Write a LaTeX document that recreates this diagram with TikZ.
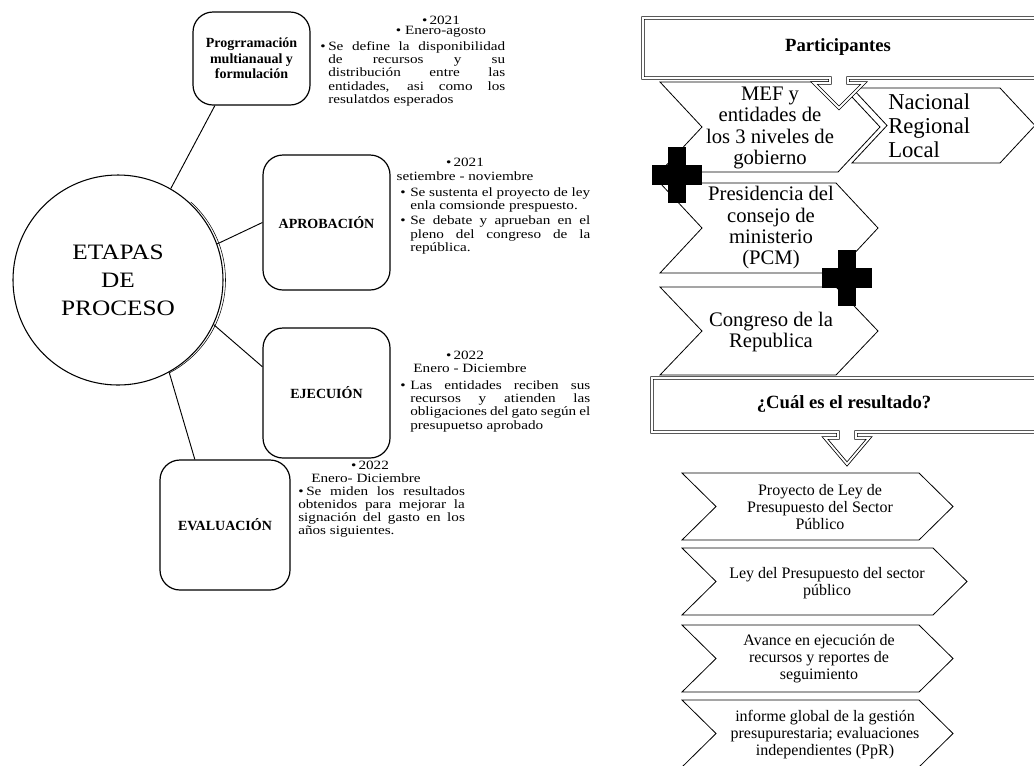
\documentclass[tikz,border=0pt]{standalone}
\usepackage{fontspec}
\setmainfont{Liberation Serif}
\newfontfamily\widefont[FakeStretch=1.2]{Liberation Serif}
\newfontfamily\circfont[FakeStretch=1.15]{Liberation Serif}
\usetikzlibrary{calc}

% chevron: x, y (top left), width, height, depth of point
\newcommand{\chevron}[5]{\draw[chev] (#1,#2) -- ({#1+#3-#5},#2) -- ({#1+#3},{#2+#4/2}) -- ({#1+#3-#5},{#2+#4}) -- (#1,{#2+#4}) -- ({#1+#5},{#2+#4/2}) -- cycle;}
% black plus sign at x, y
\newcommand{\plusmark}[2]{\fill ({#1-9},{#2-28}) rectangle ({#1+9},{#2+28});
  \fill ({#1-25},{#2-10}) rectangle ({#1+25},{#2+10});}
% hanging bullet
\newcommand{\itm}[1]{\par\noindent\hangindent=#1\hangafter=1\makebox[#1][l]{\textbullet}\ignorespaces}

\begin{document}
\begin{tikzpicture}[x=0.75pt,y=-0.75pt,
  stage/.style={draw, line width=0.9pt, rounded corners=15pt, fill=white, align=center, font=\fontsize{10.5}{11.5}\selectfont\bfseries},
  link/.style={line width=0.7pt},
  note/.style={inner sep=0pt, font=\widefont\fontsize{9.5}{9.9}\selectfont},
  para/.style={note, anchor=north west, align=justify},
  chev/.style={line width=0.6pt, fill=white},
  callout/.style={draw, double, double distance=1.4pt, line width=0.6pt, fill=white},
  big/.style={inner sep=0pt, align=center, font=\fontsize{15.5}{16}\selectfont},
  res/.style={inner sep=0pt, align=center, font=\fontsize{12}{12.75}\selectfont}]
\useasboundingbox (0,0) rectangle (1034,765);

%Draw centre circle and stages
\node[draw, circle, line width=0.8pt, minimum size=157.5pt, align=center, font=\circfont\fontsize{16.5}{21}\selectfont] (circ) at (118,280) {ETAPAS\\DE\\PROCESO};
\draw[line width=0.4pt] ([shift={(2.5,0)}]circ.center) ++(-48:105) arc[start angle=-48, end angle=62, radius=105];
\node[stage, minimum width=87.75pt, minimum height=69.75pt] (prog) at (251.5,58.5) {Progrramación\\multianaual y\\formulación};
\node[stage, minimum width=95.25pt, minimum height=101.25pt] (aprob) at (326.5,222.5) {APROBACIÓN};
\node[stage, minimum width=95.25pt, minimum height=97.5pt] (ejec) at (326.5,393) {EJECUIÓN};
\node[stage, minimum width=97.5pt, minimum height=97.5pt] (eval) at (225,525) {EVALUACIÓN};

%Draw links
\draw[link] (circ.60) -- ($(prog.south west)!0.19!(prog.south east)$);
\draw[link] (circ.20) -- (aprob.west);
\draw[link] (circ.-25) -- ($(ejec.north west)!0.3!(ejec.south west)$);
\draw[link] (circ.-61) -- ($(eval.north west)!0.27!(eval.north east)$);

%Draw notes of each stage
\node[note] (y1) at (441,20) {\textbullet\,2021};
\node[note] (m1) at (441,32) {\textbullet\ Enero-agosto};
\node[para, text width=138.75pt] (d1) at (320,37) {\itm{6pt}Se define la disponibilidad\linebreak de recursos y su\linebreak distribución entre las\linebreak entidades, asi como los\linebreak resulatdos esperados\par};

\node[note] (y2) at (465,162) {\textbullet\,2021};
\node[note] (m2) at (465,176) {setiembre - noviembre};
\node[para, text width=142.5pt] (d2) at (400,183) {\itm{7.5pt}Se sustenta el proyecto de ley\linebreak enla comsionde prespuesto.\par\vspace{1.5pt}\itm{7.5pt}Se debate y aprueban en el\linebreak pleno del congreso de la\linebreak república.\par};

\node[note] (y3) at (465,355) {\textbullet\,2022};
\node[note] (m3) at (470,368) {Enero - Diciembre};
\node[para, text width=142.5pt] (d3) at (400,376) {\itm{7.5pt}Las entidades reciben sus\linebreak recursos y atienden las\linebreak obligaciones del gato según el\linebreak presupuetso aprobado\par};

\node[note] (y4) at (370,465) {\textbullet\,2022};
\node[note] (m4) at (366,478) {Enero- Diciembre};
\node[para, text width=125pt] (d4) at (298,486) {\noindent\makebox[6pt][l]{\textbullet}Se miden los resultados\linebreak obtenidos para mejorar la\linebreak signación del gasto en los\linebreak años siguientes.\par};

%Draw participant chevrons
\chevron{660}{82}{220}{90}{42}
\chevron{852}{88}{183}{75}{35}
\chevron{660}{183}{218}{90}{42}
\chevron{660}{287}{218}{88}{42}
\node[big] (mef) at (770,128) {MEF y\\entidades de\\los 3 niveles de\\gobierno};
\node[inner sep=0pt, align=left, anchor=west, font=\fontsize{17}{18}\selectfont] (niv) at (888,126) {Nacional\\Regional\\Local};
\node[big] (pcm) at (771,228) {Presidencia del\\consejo de\\ministerio\\(PCM)};
\node[big] (cong) at (771,332) {Congreso de la\\Republica};

%Draw title boxes with arrows
\draw[callout] (643,18) -- (1045,18) -- (1045,78) -- (848,78) -- (848,83) -- (864,83) -- (839,108) -- (814,83) -- (830,83) -- (830,78) -- (643,78) -- cycle;
\node[font=\fontsize{14}{16}\selectfont\bfseries] (part) at (838,47) {Participantes};
\draw[callout] (652,378) -- (1045,378) -- (1045,432) -- (856,432) -- (856,438) -- (869,438) -- (847,464) -- (825,438) -- (838,438) -- (838,432) -- (652,432) -- cycle;
\node[font=\fontsize{14}{16}\selectfont\bfseries] (resul) at (844,404) {¿Cuál es el resultado?};

%Draw plus signs
\plusmark{677}{175}
\plusmark{847}{278}

%Draw result chevrons
\chevron{682}{473}{271}{67}{34}
\chevron{682}{548}{285}{67}{34}
\chevron{682}{625}{271}{67}{34}
\chevron{682}{700}{271}{67}{34}
\node[res] (r1) at (820,507) {Proyecto de Ley de\\Presupuesto del Sector\\Público};
\node[res] (r2) at (827,583) {Ley del Presupuesto del sector\\público};
\node[res] (r3) at (819,659) {Avance en ejecución de\\recursos y reportes de\\seguimiento};
\node[res] (r4) at (825,735) {informe global de la gestión\\presupurestaria; evaluaciones\\independientes (PpR)};
\end{tikzpicture}
\end{document}
